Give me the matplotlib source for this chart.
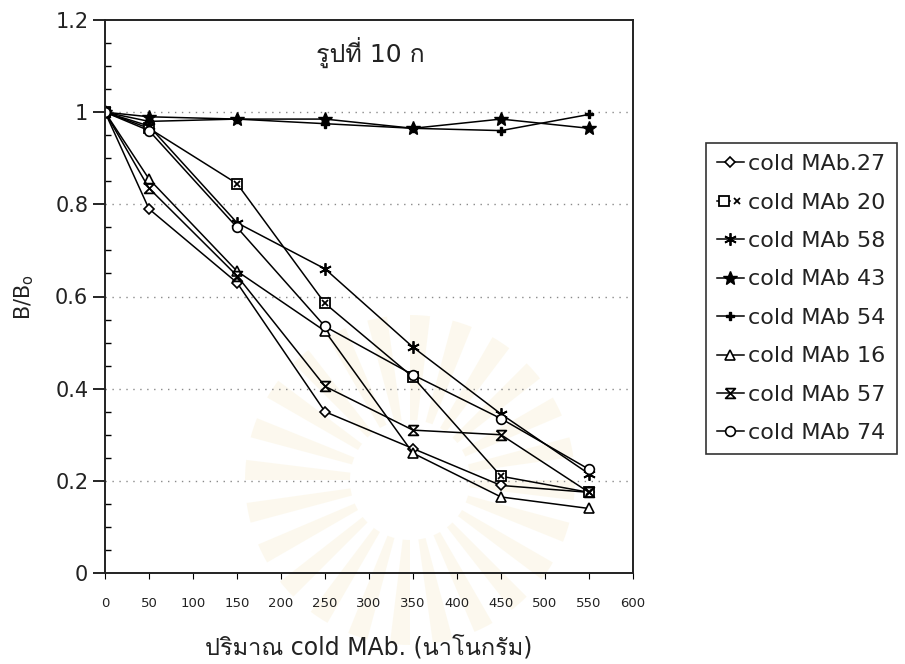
import matplotlib
matplotlib.use("Agg")
import matplotlib.pyplot as plt
from matplotlib import font_manager
from matplotlib.ft2font import FT2Font
from matplotlib.path import Path
from matplotlib.patches import Wedge
from matplotlib.legend_handler import HandlerTuple
import numpy as np

# ---- data -------------------------------------------------------------
dose = [0, 50, 150, 250, 350, 450, 550]          # ng of cold MAb
series_names = ["cold MAb.27", "cold MAb 20", "cold MAb 58", "cold MAb 43",
                "cold MAb 54", "cold MAb 16", "cold MAb 57", "cold MAb 74"]
mab27 = [1.0, 0.79, 0.63, 0.35, 0.27, 0.19, 0.175]
mab20 = [1.0, 0.965, 0.845, 0.585, 0.425, 0.21, 0.175]
mab58 = [1.0, 0.97, 0.76, 0.66, 0.49, 0.345, 0.215]
mab43 = [1.0, 0.99, 0.985, 0.985, 0.965, 0.985, 0.965]
mab54 = [1.0, 0.98, 0.985, 0.975, 0.965, 0.96, 0.995]
mab16 = [1.0, 0.855, 0.655, 0.525, 0.26, 0.165, 0.14]
mab57 = [1.0, 0.835, 0.645, 0.405, 0.31, 0.30, 0.175]
mab74 = [1.0, 0.96, 0.75, 0.535, 0.43, 0.335, 0.225]
x_ticks = [0, 50, 100, 150, 200, 250, 300, 350, 400, 450, 500, 550, 600]
y_ticks = [0, 0.2, 0.4, 0.6, 0.8, 1.0, 1.2]
y_tick_labels = ["0", "0.2", "0.4", "0.6", "0.8", "1", "1.2"]
panel_title = "รูปที่ 10 ก"
x_label = "ปริมาณ cold MAb. (นาโนกรัม)"


def find_thai_family():
    for entry in font_manager.fontManager.ttflist:
        try:
            if 0x0E1B in FT2Font(entry.fname).get_charmap():
                return entry.name
        except Exception:
            continue
    return None


thai = find_thai_family()
families = ["DejaVu Sans"] + ([thai] if thai else [])
plt.rcParams["font.family"] = families

# custom marker shapes
hourglass = Path([(-1, 1), (1, 1), (-1, -1), (1, -1), (-1, 1)],
                 [Path.MOVETO, Path.LINETO, Path.LINETO, Path.LINETO, Path.LINETO])

W, H = 905, 664
fig = plt.figure(figsize=(W / 100, H / 100), dpi=100)

# faint printed seal behind the lower part of the plot
bg = fig.add_axes([0, 0, 1, 1], zorder=-5)
bg.set_xlim(0, W)
bg.set_ylim(H, 0)
bg.axis("off")
cx, cy = 410, 480
for k in range(24):
    a0 = k * 15
    bg.add_patch(Wedge((cx, cy), 165, a0, a0 + 7, width=105,
                       facecolor="#f6e9c4", edgecolor="none", alpha=0.28))

ax = fig.add_axes([105 / W, 1 - 573 / H, 528 / W, 553 / H])
ax.patch.set_alpha(0)

lw = 1.1
common = dict(color="black", lw=lw)

h = {}
h["27"] = ax.plot(dose, mab27, marker="D", ms=5, mfc="white", mec="black", mew=1.2, **common)[0]
l20a = ax.plot(dose, mab20, marker="s", ms=7, mfc="white", mec="black", mew=1.3, **common)[0]
l20b = ax.plot(dose, mab20, ls="none", marker="x", ms=5, mec="black", mew=1.3)[0]
h["20"] = (l20a, l20b)
h["58"] = ax.plot(dose, mab58, marker=(6, 2, 0), ms=9, mec="black", mew=1.3, **common)[0]
h["43"] = ax.plot(dose, mab43, marker="*", ms=10, mfc="black", mec="black", **common)[0]
h["54"] = ax.plot(dose, mab54, marker="P", ms=6, mfc="black", mec="black", **common)[0]
h["16"] = ax.plot(dose, mab16, marker="^", ms=7, mfc="white", mec="black", mew=1.2, **common)[0]
h["57"] = ax.plot(dose, mab57, marker=hourglass, ms=7, mfc="none", mec="black", mew=1.3, **common)[0]
h["74"] = ax.plot(dose, mab74, marker="o", ms=7, mfc="white", mec="black", mew=1.2, **common)[0]

ax.set_xlim(0, 600)
ax.set_ylim(0, 1.2)
ax.set_xticks(x_ticks)
ax.set_xticklabels([str(v) for v in x_ticks], fontsize=9.5, color="#222222")
ax.set_yticks(y_ticks)
ax.set_yticklabels(y_tick_labels, fontsize=15, color="#222222")
ax.set_yticks(np.arange(0, 1.2001, 0.05), minor=True)
ax.tick_params(axis="y", which="major", direction="out", length=9, width=1.2, pad=3)
ax.tick_params(axis="y", which="minor", direction="in", length=4, width=1)
ax.tick_params(axis="x", which="major", direction="out", length=4, width=0.8, pad=13)

for s in ax.spines.values():
    s.set_linewidth(1.4)
    s.set_color("#222222")

for yv in y_ticks[1:-1]:
    ax.axhline(yv, color="#8a8a8a", lw=1.0, ls=(0, (1, 4)), zorder=0)

ax.text(0.40, 0.942, panel_title, transform=ax.transAxes, fontsize=18,
        ha="left", va="center", color="#222222")
ax.set_ylabel("B/B$_\\mathrm{o}$", fontsize=15, labelpad=14, color="#222222")
ax.set_xlabel(x_label, fontsize=17, labelpad=18, color="#222222")

handles = [h["27"], h["20"], h["58"], h["43"], h["54"], h["16"], h["57"], h["74"]]
leg = fig.legend(handles, series_names, loc="upper left",
                 bbox_to_anchor=(706 / W, 1 - 143 / H),
                 fontsize=16, frameon=True, fancybox=False, edgecolor="black",
                 handlelength=1.2, handletextpad=0.2, labelspacing=0.83,
                 borderpad=0.5, borderaxespad=0,
                 handler_map={tuple: HandlerTuple(ndivide=None, pad=0)})
leg.get_frame().set_linewidth(1.2)
for t in leg.get_texts():
    t.set_color("#222222")

fig.savefig("out.png", dpi=100)
